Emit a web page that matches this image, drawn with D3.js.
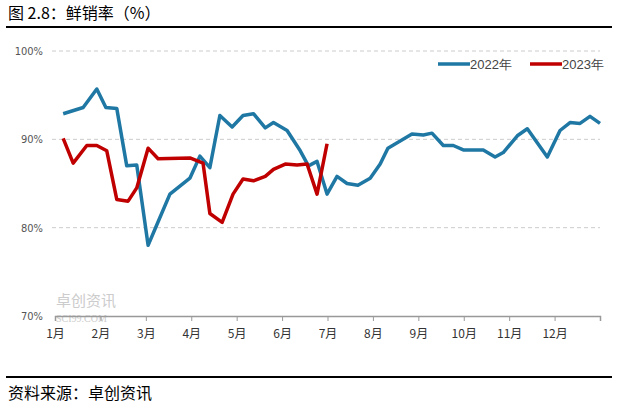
<!DOCTYPE html>
<html><head><meta charset="utf-8">
<script src="https://cdn.jsdelivr.net/npm/d3@7"></script>
<style>body{margin:0;background:#fff}svg{display:block}</style></head>
<body><svg id="c" width="622" height="410"></svg>
<script>
const monthLabels=["1月","2月","3月","4月","5月","6月","7月","8月","9月","10月","11月","12月"];
const yTicks=[70,80,90,100];
const s2022x=[0.18,0.62,0.92,1.12,1.36,1.58,1.80,2.05,2.24,2.53,2.97,3.19,3.41,3.63,3.90,4.14,4.37,4.63,4.81,5.11,5.40,5.58,5.77,5.99,6.21,6.43,6.67,6.94,7.16,7.33,7.60,7.86,8.11,8.30,8.55,8.77,8.99,9.43,9.69,9.87,10.18,10.40,10.84,11.12,11.34,11.56,11.78,12.0];
const s2022v=[92.9,93.6,95.7,93.6,93.5,87.0,87.1,78.0,80.3,83.8,85.6,88.1,86.8,92.7,91.4,92.7,92.9,91.3,91.9,91.0,88.7,87.0,87.5,83.8,85.8,85.0,84.8,85.6,87.2,89.0,89.8,90.6,90.5,90.7,89.3,89.3,88.8,88.8,88.0,88.5,90.4,91.2,88.0,91.0,91.9,91.8,92.6,91.8];
const s2023x=[0.18,0.40,0.70,0.92,1.14,1.36,1.61,1.80,2.05,2.27,2.97,3.26,3.41,3.68,3.92,4.14,4.37,4.63,4.81,5.07,5.33,5.55,5.77,5.99];
const s2023v=[90.1,87.3,89.3,89.3,88.7,83.2,83.0,84.5,89.0,87.8,87.9,87.3,81.6,80.6,83.8,85.5,85.3,85.8,86.6,87.2,87.1,87.2,83.8,89.5];
const seriesNames=["2022年","2023年"];
const colors=["#1f77a4","#c00000"];

const svg=d3.select("#c");
const x=d3.scaleLinear().domain([0,12]).range([55,600]);
const y=d3.scaleLinear().domain([70,100]).range([316,51]);
const cjk="'Noto Sans CJK SC',sans-serif";

svg.append("text").attr("x",8).attr("y",19).attr("font-family",cjk).attr("font-size",16).attr("fill","#000").text("图 2.8：鲜销率（%）");
svg.append("line").attr("x1",6).attr("x2",612).attr("y1",27).attr("y2",27).attr("stroke","#000").attr("stroke-width",2);
svg.append("line").attr("x1",6).attr("x2",612).attr("y1",377).attr("y2",377).attr("stroke","#000").attr("stroke-width",2);
svg.append("text").attr("x",8).attr("y",399).attr("font-family",cjk).attr("font-size",16).attr("fill","#000").text("资料来源：卓创资讯");

// grid
svg.append("g").selectAll("line").data(yTicks.filter(d=>d>70)).join("line")
 .attr("x1",52).attr("x2",600).attr("y1",d=>y(d)).attr("y2",d=>y(d))
 .attr("stroke","#ccc").attr("stroke-dasharray","4,3");
svg.append("g").selectAll("text").data(yTicks).join("text")
 .attr("x",43).attr("y",d=>y(d)+4).attr("text-anchor","end").attr("font-family","'Liberation Sans Narrow','DejaVu Sans Condensed',sans-serif")
 .attr("font-size",11).attr("fill","#555").text(d=>d+"%");

// watermark
svg.append("text").attr("x",56).attr("y",306).attr("font-family",cjk).attr("font-size",15).attr("fill","#ccc").text("卓创资讯");
svg.append("text").attr("x",56).attr("y",322).attr("font-family","serif").attr("font-size",10).attr("fill","#ccc").text("SCI99.COM");

// x axis
const xa=d3.axisBottom(x).tickValues(d3.range(13)).tickSize(5).tickFormat(i=>monthLabels[i]||"");
const gx=svg.append("g").attr("transform","translate(0,316)").call(xa);
gx.select(".domain").attr("stroke","#999").attr("stroke-width",1.5);
gx.selectAll("line").attr("stroke","#999");
gx.selectAll("text").attr("font-family",cjk).attr("font-size",12).attr("fill","#333").attr("dy","1.2em");

const line=d3.line().x(d=>x(d[0])).y(d=>y(d[1]));
[[s2022x,s2022v],[s2023x,s2023v]].forEach((s,i)=>{
 svg.append("path").datum(d3.zip(s[0],s[1])).attr("d",line).attr("fill","none")
  .attr("stroke",colors[i]).attr("stroke-width",3.5).attr("stroke-linejoin","round");
});

// legend
const lg=[[438,seriesNames[0]],[530,seriesNames[1]]];
lg.forEach((l,i)=>{
 svg.append("line").attr("x1",l[0]).attr("x2",l[0]+32).attr("y1",64).attr("y2",64).attr("stroke",colors[i]).attr("stroke-width",3.5);
 svg.append("text").attr("x",l[0]+32).attr("y",69).attr("font-family","'Liberation Sans Narrow',sans-serif").attr("font-size",13).attr("fill","#444").text(l[1]);
});
</script></body></html>
